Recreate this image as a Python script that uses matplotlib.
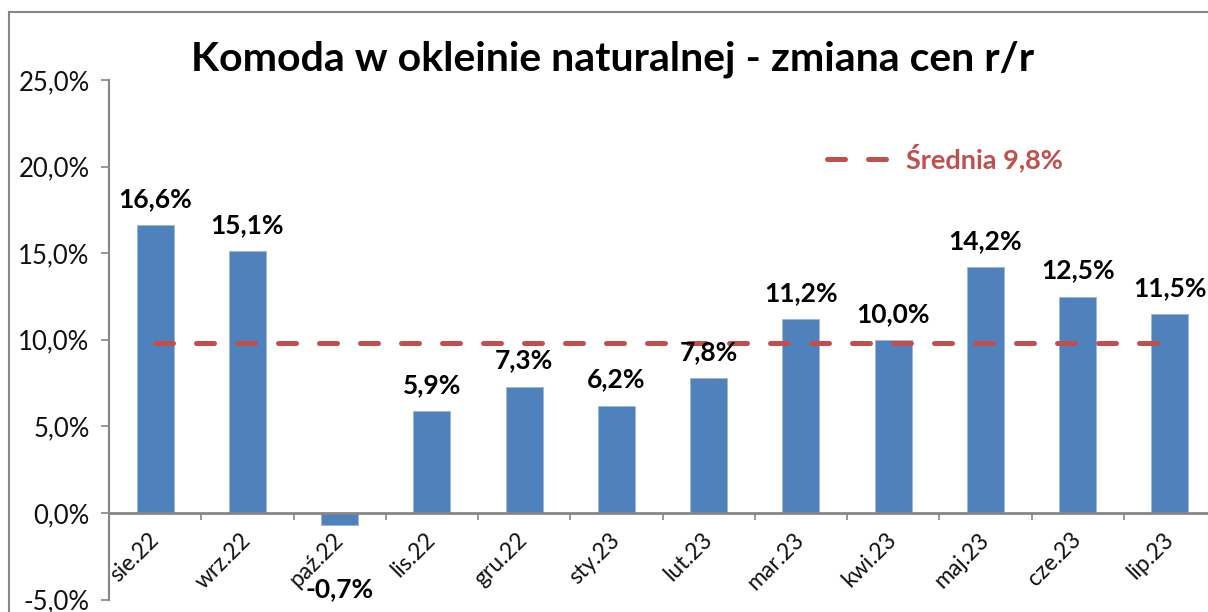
import matplotlib
matplotlib.use("Agg")
import matplotlib.pyplot as plt
from matplotlib.ticker import FuncFormatter, FixedLocator
from matplotlib.patches import Rectangle

categories = ["sie.22", "wrz.22", "paź.22", "lis.22", "gru.22", "sty.23",
              "lut.23", "mar.23", "kwi.23", "maj.23", "cze.23", "lip.23"]
values = [16.6, 15.1, -0.7, 5.9, 7.3, 6.2, 7.8, 11.2, 10.0, 14.2, 12.5, 11.5]
average = 9.8
title = "Komoda w okleinie naturalnej - zmiana cen r/r"
avg_label = "Średnia 9,8%"

BAR = "#4F81BD"
RED = "#C0504D"
GRAY = "#868686"

plt.rcParams['font.family'] = ['Lato', 'DejaVu Sans']

W, H = 1208, 612
fig = plt.figure(figsize=(W / 100, H / 100), dpi=100)

# outer chart border
fig.patches.append(Rectangle((9 / W, -0.5), 2.0, (H - 12) / H + 0.5,
                             transform=fig.transFigure, fill=False,
                             edgecolor=GRAY, linewidth=1.5))

left, right = 109 / W, 1216 / W
bottom, top = (H - 599.6) / H, (H - 80) / H
ax = fig.add_axes([left, bottom, right - left, top - bottom])

x = list(range(len(categories)))
ax.bar(x, values, width=0.4, color=BAR, edgecolor="#9DB7DA", linewidth=0.6, zorder=2)
ax.plot(x, [average] * len(x), color=RED, linewidth=3.6, dashes=(3.6, 4.6),
        dash_capstyle='round', label=avg_label, zorder=3)

ax.set_xlim(-0.5, len(categories) - 0.5)
ax.set_ylim(-5, 25)
ax.set_yticks([-5, 0, 5, 10, 15, 20, 25])
ax.yaxis.set_major_formatter(FuncFormatter(lambda v, p: f"{v:.1f}%".replace(".", ",")))

for s in ["top", "right"]:
    ax.spines[s].set_visible(False)
ax.spines["left"].set_color(GRAY)
ax.spines["left"].set_linewidth(1.5)
ax.spines["bottom"].set_position(("data", 0))
ax.spines["bottom"].set_color(GRAY)
ax.spines["bottom"].set_linewidth(2)

ax.tick_params(axis="y", direction="out", length=6, width=1.2, color=GRAY,
               labelsize=18.5, pad=8, labelcolor="#111111")
ax.set_xticks(x)
ax.set_xticklabels(categories)
ax.xaxis.set_minor_locator(FixedLocator([i + 0.5 for i in range(len(categories))]))
ax.tick_params(axis="x", which="major", length=0, pad=17, labelsize=16.5, labelcolor="#111111")
ax.tick_params(axis="x", which="minor", direction="out", length=5, width=1.2, color=GRAY)
for lbl in ax.get_xticklabels():
    lbl.set_rotation(45)
    lbl.set_ha("right")
    lbl.set_va("center")
    lbl.set_rotation_mode("anchor")

for xi, v in zip(x, values):
    txt = f"{v:.1f}%".replace(".", ",")
    if v >= 0:
        ax.annotate(txt, (xi, v), xytext=(0, 13), textcoords="offset points",
                    ha="center", va="baseline", fontsize=19, fontweight="bold",
                    color="black", zorder=4)
    else:
        ax.annotate(txt, (xi, v), xytext=(0, -52), textcoords="offset points",
                    ha="center", va="baseline", fontsize=19, fontweight="bold",
                    color="black", zorder=4, annotation_clip=False)

fig.text(613 / W, (H - 70) / H, title, ha="center", va="baseline",
         fontsize=29.5, fontweight="bold", color="black")

leg = ax.legend(loc="center left", bbox_to_anchor=(803 / W, (H - 158) / H),
                bbox_transform=fig.transFigure, frameon=False, handlelength=2.4,
                handletextpad=0.5, prop={"size": 19.5, "weight": "bold"})
for t in leg.get_texts():
    t.set_color(RED)

fig.savefig("out.png", dpi=100)
